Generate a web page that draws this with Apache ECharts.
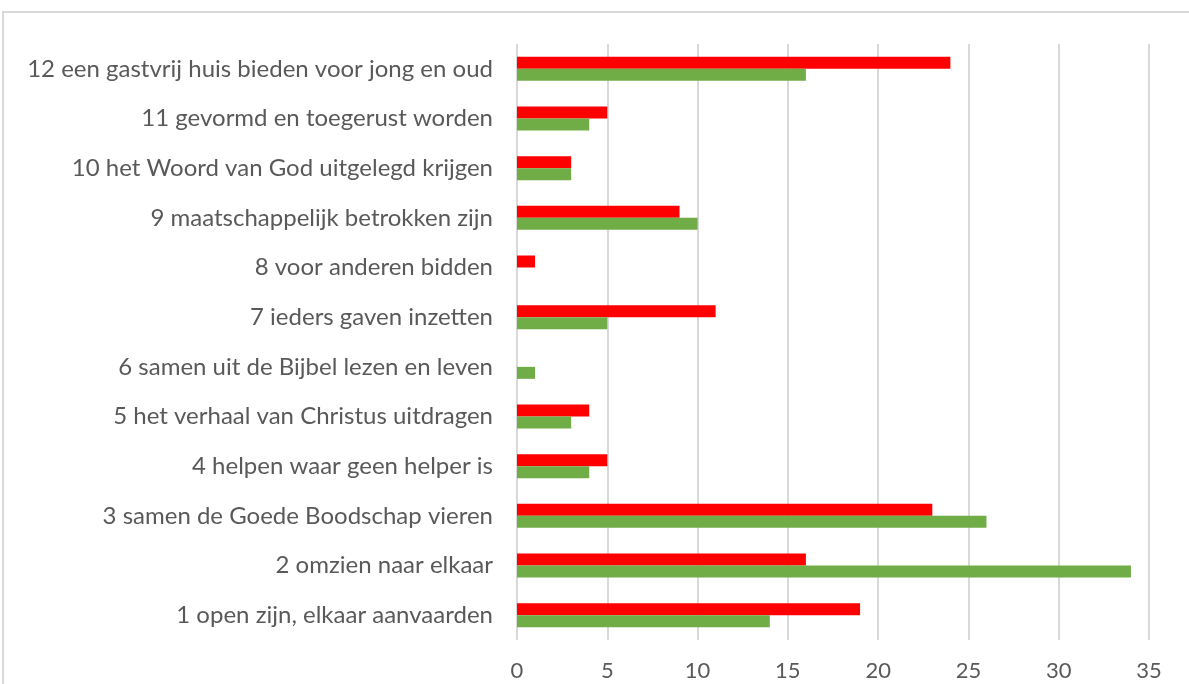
<!DOCTYPE html>
<html><head><meta charset="utf-8">
<script src="https://cdn.jsdelivr.net/npm/echarts@6/dist/echarts.min.js"></script>
<style>html,body{margin:0;padding:0;background:#fff}#c{width:1189px;height:684px}</style>
</head><body><div id="c"></div>
<script>
const categories = [
  "1 open zijn, elkaar aanvaarden",
  "2 omzien naar elkaar",
  "3 samen de Goede Boodschap vieren",
  "4 helpen waar geen helper is",
  "5 het verhaal van Christus uitdragen",
  "6 samen uit de Bijbel lezen en leven",
  "7 ieders gaven inzetten",
  "8 voor anderen bidden",
  "9 maatschappelijk betrokken zijn",
  "10 het Woord van God uitgelegd krijgen",
  "11 gevormd en toegerust worden",
  "12 een gastvrij huis bieden voor jong en oud"
];
const redValues   = [19, 16, 23, 5, 4, 0, 11, 1, 9, 3, 5, 24];
const greenValues = [14, 34, 26, 4, 3, 1, 5, 0, 10, 3, 4, 16];
const xTicks = { min: 0, max: 35, interval: 5 };

const chart = echarts.init(document.getElementById('c'));
chart.setOption({
  animation: false,
  graphic: [{
    type: 'rect', shape: { x: 3, y: 12, width: 1200, height: 700 },
    style: { fill: 'none', stroke: '#d9d9d9', lineWidth: 2 }, silent: true, z: -1
  }],
  grid: { left: 517, right: 40, top: 44, bottom: 44, containLabel: false },
  xAxis: {
    type: 'value', min: xTicks.min, max: xTicks.max, interval: xTicks.interval,
    axisLine: { show: false }, axisTick: { show: false },
    axisLabel: { color: '#595959', fontFamily: 'Lato', fontSize: 22, margin: 20 },
    splitLine: { lineStyle: { color: '#d9d9d9', width: 2 } }
  },
  yAxis: {
    type: 'category', data: categories,
    axisLine: { show: false }, axisTick: { show: false },
    axisLabel: { color: '#595959', fontFamily: 'Lato', fontSize: 24, margin: 24 }
  },
  series: [
    { type: 'bar', name: 'rood', data: redValues, barWidth: 12, barGap: '0%', itemStyle: { color: '#ff0000' } },
    { type: 'bar', name: 'groen', data: greenValues, barWidth: 12, barGap: '0%', itemStyle: { color: '#70ad47' } }
  ]
});
</script></body></html>
